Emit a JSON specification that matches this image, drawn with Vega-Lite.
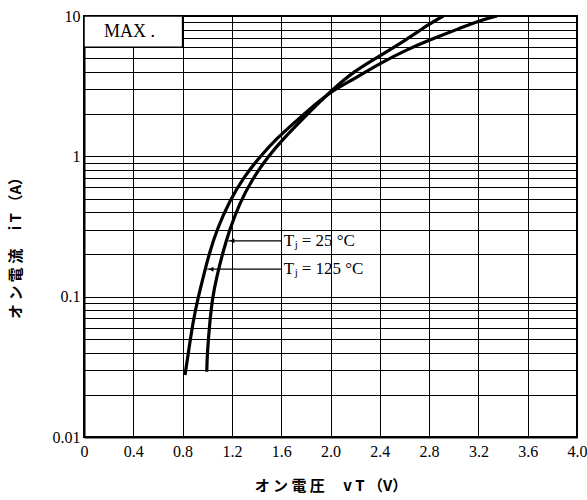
{
  "$schema": "https://vega.github.io/schema/vega-lite/v6.json",
  "width": 493,
  "height": 421,
  "autosize": {"type": "none"},
  "padding": {"left": 84, "top": 16, "right": 10, "bottom": 63},
  "background": "white",
  "config": {
    "view": {"stroke": "black", "strokeWidth": 2},
    "font": "Liberation Serif"
  },
  "datasets": {
    "curves": [
      {"curve": "125", "v": 0.82, "i": 0.0277},
      {"curve": "125", "v": 0.846, "i": 0.0395},
      {"curve": "125", "v": 0.887, "i": 0.0683},
      {"curve": "125", "v": 0.928, "i": 0.1},
      {"curve": "125", "v": 0.968, "i": 0.139},
      {"curve": "125", "v": 1.017, "i": 0.204},
      {"curve": "125", "v": 1.077, "i": 0.299},
      {"curve": "125", "v": 1.18, "i": 0.48},
      {"curve": "125", "v": 1.3, "i": 0.72},
      {"curve": "125", "v": 1.43, "i": 1.0},
      {"curve": "125", "v": 1.563, "i": 1.34},
      {"curve": "125", "v": 1.726, "i": 1.8},
      {"curve": "125", "v": 1.9, "i": 2.45},
      {"curve": "125", "v": 2.02, "i": 2.95},
      {"curve": "125", "v": 2.2, "i": 3.6},
      {"curve": "125", "v": 2.4, "i": 4.6},
      {"curve": "125", "v": 2.618, "i": 5.75},
      {"curve": "125", "v": 2.807, "i": 6.76},
      {"curve": "125", "v": 3.051, "i": 8.18},
      {"curve": "125", "v": 3.213, "i": 9.3},
      {"curve": "125", "v": 3.35, "i": 10},
      {"curve": "25", "v": 0.996, "i": 0.0292},
      {"curve": "25", "v": 1.0, "i": 0.0395},
      {"curve": "25", "v": 1.022, "i": 0.0683},
      {"curve": "25", "v": 1.044, "i": 0.1},
      {"curve": "25", "v": 1.077, "i": 0.139},
      {"curve": "25", "v": 1.125, "i": 0.204},
      {"curve": "25", "v": 1.175, "i": 0.29},
      {"curve": "25", "v": 1.26, "i": 0.46},
      {"curve": "25", "v": 1.37, "i": 0.7},
      {"curve": "25", "v": 1.495, "i": 1.0},
      {"curve": "25", "v": 1.617, "i": 1.33},
      {"curve": "25", "v": 1.753, "i": 1.77},
      {"curve": "25", "v": 1.915, "i": 2.45},
      {"curve": "25", "v": 2.02, "i": 3.0},
      {"curve": "25", "v": 2.183, "i": 4.0},
      {"curve": "25", "v": 2.4, "i": 5.2},
      {"curve": "25", "v": 2.618, "i": 6.8},
      {"curve": "25", "v": 2.807, "i": 8.85},
      {"curve": "25", "v": 2.915, "i": 10}
    ],
    "labels": [
      {"v": 1.17, "v2": 1.6, "tv": 1.62, "i": 0.25, "t": "T", "sub": "j", "rest": "= 25  °C"},
      {"v": 1.0, "v2": 1.6, "tv": 1.62, "i": 0.157, "t": "T", "sub": "j", "rest": "= 125  °C"}
    ],
    "box": [
      {"v": 0, "v2": 0.8, "i": 6, "i2": 10, "mid": 0.37, "im": 7.75, "t": "MAX ."}
    ]
  },
  "encoding": {
    "x": {
      "field": "v",
      "type": "quantitative",
      "scale": {"domain": [0, 4], "nice": false, "zero": false},
      "axis": {
        "values": [0, 0.4, 0.8, 1.2, 1.6, 2.0, 2.4, 2.8, 3.2, 3.6, 4.0],
        "labelExpr": "datum.value == 0 ? '0' : format(datum.value, '.1f')",
        "grid": true,
        "gridColor": "black",
        "gridWidth": 1,
        "gridOpacity": 1,
        "ticks": false,
        "domainColor": "black",
        "domainWidth": 2,
        "labelFont": "Liberation Serif",
        "labelFontSize": 16,
        "labelColor": "black",
        "labelPadding": 6,
        "labelFlush": false,
        "title": "オ ン 電 圧　 v T （V）",
        "titleFont": "Noto Sans CJK JP",
        "titleFontSize": 15,
        "titleFontWeight": "bold",
        "titleColor": "black",
        "titlePadding": 19
      }
    },
    "y": {
      "field": "i",
      "type": "quantitative",
      "scale": {"type": "log", "domain": [0.01, 10], "nice": false},
      "axis": {
        "values": [0.01, 0.02, 0.03, 0.04, 0.05, 0.06, 0.07, 0.08, 0.09, 0.1, 0.2, 0.3, 0.4, 0.5, 0.6, 0.7, 0.8, 0.9, 1, 2, 3, 4, 5, 6, 7, 8, 9, 10],
        "labelExpr": "datum.value == 0.01 ? '0.01' : datum.value == 0.1 ? '0.1' : datum.value == 1 ? '1' : datum.value == 10 ? '10' : ''",
        "grid": true,
        "gridColor": "black",
        "gridWidth": 1,
        "gridOpacity": 1,
        "ticks": false,
        "domainColor": "black",
        "domainWidth": 2,
        "labelFont": "Liberation Serif",
        "labelFontSize": 16,
        "labelColor": "black",
        "labelPadding": 4,
        "labelFlush": false,
        "labelOverlap": false,
        "title": "オ ン 電 流　 i T （A）",
        "titleFont": "Noto Sans CJK JP",
        "titleFontSize": 15,
        "titleFontWeight": "bold",
        "titleColor": "black",
        "titleAngle": -90,
        "titleBaseline": "middle",
        "titleX": -69,
        "titleY": 228
      }
    }
  },
  "layer": [
    {
      "data": {"name": "box"},
      "mark": {"type": "rect", "fill": "white", "stroke": "black", "strokeWidth": 1.5},
      "encoding": {"x2": {"field": "v2"}, "y2": {"field": "i2"}}
    },
    {
      "data": {"name": "box"},
      "mark": {"type": "text", "fontSize": 18, "font": "Liberation Serif", "color": "black", "align": "center", "baseline": "middle"},
      "encoding": {"x": {"field": "mid", "type": "quantitative"}, "y": {"field": "im", "type": "quantitative"}, "text": {"field": "t"}}
    },
    {
      "data": {"name": "curves"},
      "mark": {"type": "line", "color": "black", "strokeWidth": 3.2, "interpolate": "basis", "clip": true},
      "encoding": {"detail": {"field": "curve"}}
    },
    {
      "data": {"name": "labels"},
      "mark": {"type": "rule", "color": "black", "strokeWidth": 1.2},
      "encoding": {"x2": {"field": "v2"}}
    },
    {
      "data": {"name": "labels"},
      "mark": {"type": "point", "shape": "triangle-left", "filled": true, "color": "black", "size": 25, "opacity": 1, "xOffset": 4},
      "encoding": {}
    },
    {
      "data": {"name": "labels"},
      "mark": {"type": "text", "fontSize": 17, "font": "Liberation Serif", "color": "black", "align": "left", "baseline": "middle"},
      "encoding": {"x": {"field": "tv", "type": "quantitative"}, "text": {"field": "t"}}
    },
    {
      "data": {"name": "labels"},
      "mark": {"type": "text", "fontSize": 11, "font": "Liberation Serif", "color": "black", "align": "left", "baseline": "middle", "dx": 11, "dy": 4},
      "encoding": {"x": {"field": "tv", "type": "quantitative"}, "text": {"field": "sub"}}
    },
    {
      "data": {"name": "labels"},
      "mark": {"type": "text", "fontSize": 17, "font": "Liberation Serif", "color": "black", "align": "left", "baseline": "middle", "dx": 18},
      "encoding": {"x": {"field": "tv", "type": "quantitative"}, "text": {"field": "rest"}}
    }
  ]
}
